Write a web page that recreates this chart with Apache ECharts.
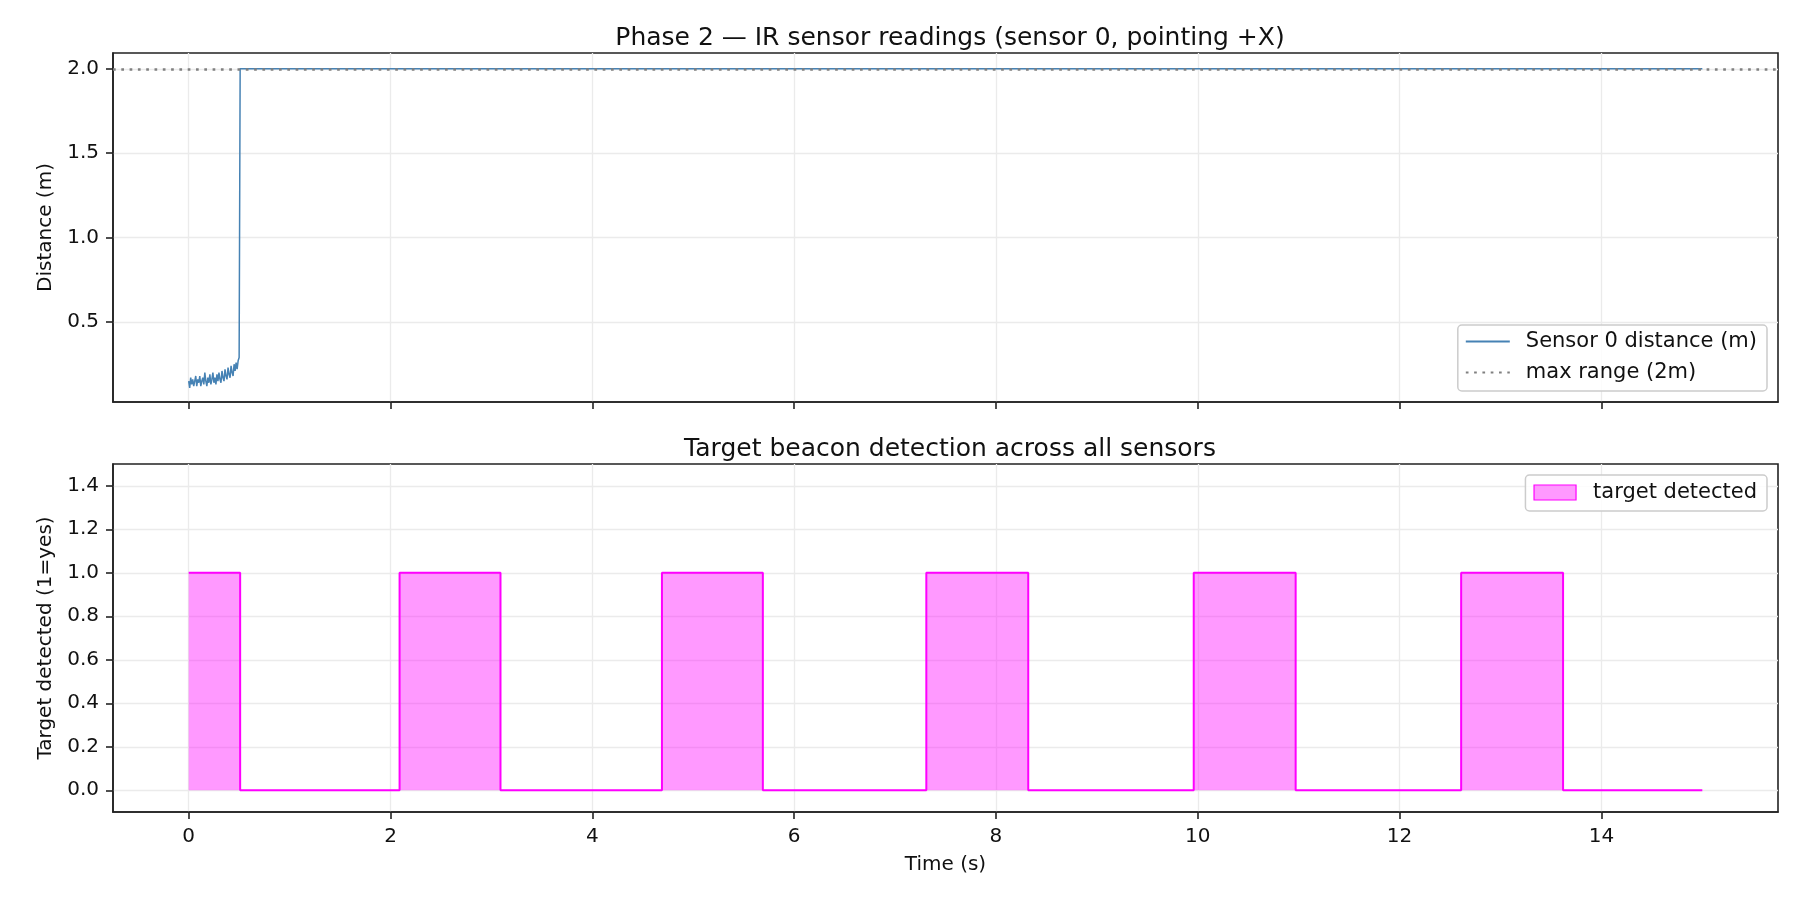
<!DOCTYPE html>
<html>
<head>
<meta charset="utf-8">
<script src="https://cdn.jsdelivr.net/npm/echarts@6/dist/echarts.min.js"></script>
<style>
  html, body { margin: 0; padding: 0; background: #fff; }
  #chart { width: 1800px; height: 900px; }
</style>
</head>
<body>
<div id="chart"></div>
<script>
// sensor 0 readings, sampled every 10 ms from t=0 to t=0.50 s
var sensorDt = 0.01;
var sensorReadings = [
    0.15, 0.11, 0.17, 0.13, 0.16, 0.12, 0.15, 0.18, 0.12, 0.16,
    0.14, 0.18, 0.12, 0.15, 0.17, 0.13, 0.20, 0.15, 0.12, 0.17,
    0.14, 0.19, 0.13, 0.16, 0.20, 0.14, 0.17, 0.13, 0.19, 0.15,
    0.20, 0.16, 0.14, 0.21, 0.17, 0.15, 0.22, 0.18, 0.16, 0.23,
    0.19, 0.17, 0.24, 0.20, 0.18, 0.25, 0.21, 0.26, 0.22, 0.27,
    0.29
];
// after the jump the sensor sits at max range until the end
var sensorFlatTimes = [0.51, 15.0];
var maxRange = 2.0;

// target detected windows (1 between start and end, 0 otherwise)
var detectStarts = [0.00, 2.09, 4.69, 7.31, 9.96, 12.61];
var detectEnds   = [0.51, 3.09, 5.69, 8.32, 10.97, 13.62];
var runEnd = 15.0;

var xTicks = [0, 2, 4, 6, 8, 10, 12, 14];
var topYTicks = [0.5, 1.0, 1.5, 2.0];
var bottomYTicks = [0.0, 0.2, 0.4, 0.6, 0.8, 1.0, 1.2, 1.4];

var sensorData = sensorReadings.map(function (v, i) {
    return [+(i * sensorDt).toFixed(2), v];
});
sensorFlatTimes.forEach(function (t) { sensorData.push([t, maxRange]); });

var detectData = [];
detectStarts.forEach(function (s, i) {
    detectData.push([s, 1]);
    detectData.push([detectEnds[i], 0]);
});
detectData.push([runEnd, 0]);

var FONT = 'DejaVu Sans';
var axisColor = '#222';
var gridColor = '#ebebeb';
var textColor = '#111';

function xAxisCfg(gridIndex, showLabels) {
    return {
        type: 'value', gridIndex: gridIndex,
        min: -0.75, max: 15.75,
        axisLine: { show: true, onZero: false, lineStyle: { color: axisColor, width: 1.6 } },
        axisTick: { show: true, length: 7, customValues: xTicks, lineStyle: { color: axisColor, width: 1.6 } },
        axisLabel: { show: showLabels, customValues: xTicks, margin: 15,
            fontFamily: FONT, fontSize: 20, color: textColor },
        splitLine: { show: true, lineStyle: { color: gridColor, width: 1.3 } },
        name: showLabels ? 'Time (s)' : '',
        nameLocation: 'middle', nameGap: 43,
        nameTextStyle: { fontFamily: FONT, fontSize: 20, color: textColor }
    };
}

function yAxisCfg(gridIndex, min, max, ticks, name) {
    return {
        type: 'value', gridIndex: gridIndex,
        min: min, max: max,
        axisLine: { show: true, onZero: false, lineStyle: { color: axisColor, width: 1.6 } },
        axisTick: { show: true, length: 7, customValues: ticks, lineStyle: { color: axisColor, width: 1.6 } },
        axisLabel: { customValues: ticks, margin: 14, fontFamily: FONT, fontSize: 20, color: textColor,
            formatter: function (v) { return v.toFixed(1); } },
        splitLine: { show: true, lineStyle: { color: gridColor, width: 1.3 } },
        name: name, nameLocation: 'middle', nameGap: 57,
        nameTextStyle: { fontFamily: FONT, fontSize: 20, color: textColor }
    };
}

var chart = echarts.init(document.getElementById('chart'), null, { renderer: 'canvas' });

chart.setOption({
    animation: false,
    backgroundColor: '#fff',
    title: [
        { text: 'Phase 2 — IR sensor readings (sensor 0, pointing +X)', left: 945, top: 21, textAlign: 'center',
          textStyle: { fontFamily: FONT, fontSize: 25, fontWeight: 'normal', color: textColor } },
        { text: 'Target beacon detection across all sensors', left: 945, top: 432, textAlign: 'center',
          textStyle: { fontFamily: FONT, fontSize: 25, fontWeight: 'normal', color: textColor } }
    ],
    grid: [
        { left: 113, right: 22, top: 53, height: 349, show: true, borderColor: axisColor, borderWidth: 1.6, backgroundColor: 'transparent' },
        { left: 113, right: 22, top: 464, height: 348, show: true, borderColor: axisColor, borderWidth: 1.6, backgroundColor: 'transparent' }
    ],
    legend: [
        {
            orient: 'vertical', right: 33, top: 325,
            data: ['Sensor 0 distance (m)', 'max range (2m)'],
            itemWidth: 44, itemHeight: 14, itemGap: 10,
            itemStyle: { opacity: 0 },
            padding: [6, 10, 8, 7],
            borderColor: '#cccccc', borderWidth: 1.5, borderRadius: 4,
            backgroundColor: 'rgba(255,255,255,0.85)',
            textStyle: { fontFamily: FONT, fontSize: 21, color: textColor, padding: [0, 0, 0, 11] }
        },
        {
            orient: 'vertical', right: 33, top: 475,
            data: [{ name: 'target detected', icon: 'rect',
                     itemStyle: { color: 'rgba(255,0,255,0.4)', borderColor: '#ff00ff', borderWidth: 1.2, opacity: 1 } }],
            itemWidth: 42, itemHeight: 15,
            padding: [7, 10, 8, 8],
            borderColor: '#cccccc', borderWidth: 1.5, borderRadius: 4,
            backgroundColor: 'rgba(255,255,255,0.85)',
            textStyle: { fontFamily: FONT, fontSize: 21, color: textColor, padding: [0, 0, 0, 12] }
        }
    ],
    xAxis: [xAxisCfg(0, false), xAxisCfg(1, true)],
    yAxis: [
        yAxisCfg(0, 0.026, 2.094, topYTicks, 'Distance (m)'),
        yAxisCfg(1, -0.1, 1.5, bottomYTicks, 'Target detected (1=yes)')
    ],
    series: [
        {
            name: 'Sensor 0 distance (m)', type: 'line',
            xAxisIndex: 0, yAxisIndex: 0,
            data: sensorData, symbol: 'none',
            lineStyle: { color: '#4682b4', width: 1.5 },
            itemStyle: { color: '#4682b4' },
            z: 3
        },
        {
            name: 'max range (2m)', type: 'line',
            xAxisIndex: 0, yAxisIndex: 0,
            data: [], symbol: 'none',
            lineStyle: { color: '#808080', width: 2.6, type: [2.7, 5.6] },
            itemStyle: { color: '#808080' },
            markLine: {
                silent: true, symbol: 'none',
                label: { show: false },
                lineStyle: { color: '#808080', width: 2.6, type: [2.7, 5.6] },
                data: [{ yAxis: maxRange }]
            },
            z: 4
        },
        {
            name: 'target detected', type: 'line',
            xAxisIndex: 1, yAxisIndex: 1,
            data: detectData, step: 'end', symbol: 'none',
            lineStyle: { color: '#ff00ff', width: 2 },
            itemStyle: { color: '#ff00ff' },
            areaStyle: { color: 'rgba(255,0,255,0.4)', opacity: 1, origin: 0 }
        }
    ]
});
</script>
</body>
</html>
